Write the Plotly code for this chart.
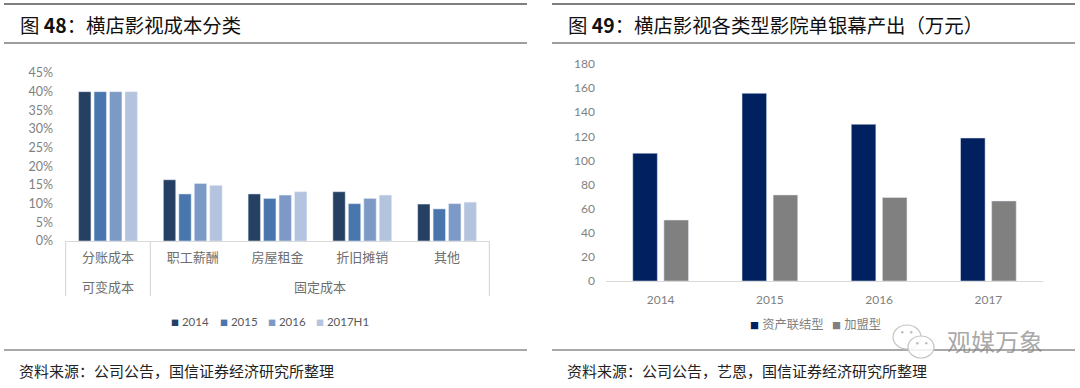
import plotly.graph_objects as go

W, H = 1080, 388
groups = ["可变成本", "固定成本", "固定成本", "固定成本", "固定成本"]
cost_items = ["分账成本", "职工薪酬", "房屋租金", "折旧摊销", "其他"]
years_left = ["2014", "2015", "2016", "2017H1"]
v2014 = [40, 16.4, 12.6, 13.2, 9.9]
v2015 = [40, 12.6, 11.4, 10.0, 8.6]
v2016 = [40, 15.4, 12.3, 11.4, 10.0]
v2017h1 = [40, 14.9, 13.2, 12.3, 10.4]
left_values = [v2014, v2015, v2016, v2017h1]
left_colors = ["#264064", "#4a76ae", "#7d9ac6", "#b4c4de"]

years_right = ["2014", "2015", "2016", "2017"]
asset_linked = [106, 155.7, 130, 118.6]
franchise = [50.6, 71.4, 69.3, 66.4]
right_names = ["资产联结型", "加盟型"]
right_colors = ["#00205f", "#808080"]

title_left = "图 <b>48</b>：横店影视成本分类"
title_right = "图 <b>49</b>：横店影视各类型影院单银幕产出（万元）"
source_left = "资料来源：公司公告，国信证券经济研究所整理"
source_right = "资料来源：公司公告，艺恩，国信证券经济研究所整理"

SANS = "Lato, 'Noto Sans CJK SC', sans-serif"
CJK = "'Noto Sans CJK SC', sans-serif"
TICK = "#7f7f7f"
AXIS = "#d9d9d9"
RULE = "#3f3f3f"

def px(x): return x / W
def py(y): return 1 - y / H

fig = go.Figure()
for name, vals, col in zip(years_left, left_values, left_colors):
    fig.add_trace(go.Bar(x=cost_items, y=vals, name=name, marker_color=col,
                         xaxis="x", yaxis="y", showlegend=False))
for name, vals, col in zip(right_names, [asset_linked, franchise], right_colors):
    fig.add_trace(go.Bar(x=years_right, y=vals, name=name, marker_color=col,
                         xaxis="x2", yaxis="y2", showlegend=False, offsetgroup=name))

shapes = []
for x0, x1 in [(4, 527), (552, 1075)]:
    for y, c, w in [(4, "#555555", 1.5), (43, RULE, 1.2), (350, "#555555", 1.2)]:
        shapes.append(dict(type="line", xref="paper", yref="paper", x0=px(x0), x1=px(x1),
                           y0=py(y), y1=py(y), line=dict(color=c, width=w)))
# group dividers under the left category axis, at the category band edges
spans = {}
for i, g in enumerate(groups):
    spans.setdefault(g, []).append(i)
edges = sorted({-0.5} | {s[-1] + 0.5 for s in spans.values()})
for e in edges:
    shapes.append(dict(type="line", xref="x", yref="paper", x0=e, x1=e,
                       y0=py(241), y1=py(296), line=dict(color=AXIS, width=1.2)))
# watermark icon
for x0, y0, x1, y1 in [(893, 325, 921, 349), (908, 336, 934, 358)]:
    shapes.append(dict(type="circle", xref="paper", yref="paper", x0=px(x0), x1=px(x1),
                       y0=py(y0), y1=py(y1), fillcolor="rgba(255,255,255,0.85)",
                       line=dict(color="#c4c4c4", width=1.2)))
for x0, y0 in [(901, 331), (910, 331), (916, 342), (925, 342)]:
    shapes.append(dict(type="circle", xref="paper", yref="paper", x0=px(x0), x1=px(x0 + 2.5),
                       y0=py(y0), y1=py(y0 + 2.5), fillcolor="#bdbdbd", line=dict(width=0)))

ann = []
def text(x, y, s, size, color="#111111", font=CJK, anchor="left"):
    ann.append(dict(xref="paper", yref="paper", x=px(x), y=py(y), text=s, showarrow=False,
                    xanchor=anchor, yanchor="middle", align=anchor,
                    font=dict(family=font, size=size, color=color)))

text(18, 25, title_left, 19.4)
text(566, 25, title_right, 19.4)
text(17, 370, source_left, 15, "#222222")
text(565, 370, source_right, 15, "#222222")
for g, idx in spans.items():
    ann.append(dict(xref="x", yref="paper", x=sum(idx) / len(idx), y=py(286), text=g, showarrow=False,
                    xanchor="center", yanchor="middle",
                    font=dict(family=CJK, size=13, color="#6e6e6e")))
for x, name, col in zip([169, 218, 266, 314], years_left, left_colors):
    text(x, 321, f'<span style="color:{col};font-size:8px">■</span> {name}', 11.5, "#595959", SANS)
for x, name, col in zip([748, 830], right_names, right_colors):
    text(x, 324, f'<span style="color:{col};font-size:9px">■</span> {name}', 12.3, "#7f7f7f", SANS)
text(945, 340, "观媒万象", 24, "rgba(130,130,130,0.7)", CJK)

fig.update_layout(
    width=W, height=H, margin=dict(l=0, r=0, t=0, b=0, autoexpand=False), autosize=False,
    paper_bgcolor="white", plot_bgcolor="white", barmode="group",
    bargap=0.27, bargroupgap=0.2, showlegend=False,
    font=dict(family=SANS, color=TICK), shapes=shapes, annotations=ann,
    xaxis=dict(domain=[px(65), px(490)], type="category", showline=True, linecolor=AXIS,
               linewidth=1.2, ticks="", showgrid=False, ticklabelstandoff=4,
               tickfont=dict(size=13, family=CJK, color="#6e6e6e")),
    yaxis=dict(domain=[py(241), py(73)], range=[0, 45], dtick=5, ticksuffix="%", showgrid=False,
               showline=False, ticks="", zeroline=False, ticklabelstandoff=11,
               tickfont=dict(size=12.5, color=TICK)),
    xaxis2=dict(domain=[px(606), px(1043)], type="category", showline=True, linecolor=AXIS,
                linewidth=1, ticks="", showgrid=False, anchor="y2", ticklabelstandoff=8,
                tickfont=dict(size=12, color=TICK)),
    yaxis2=dict(domain=[py(281), py(64)], range=[0, 180], dtick=20, showgrid=False, showline=False,
                ticks="", zeroline=False, anchor="x2", ticklabelstandoff=10,
                tickfont=dict(size=12, color=TICK)),
)
# right panel has its own bar spacing
fig.data[4].update(width=0.225, offset=-0.255)
fig.data[5].update(width=0.225, offset=0.03)
fig.write_html("out.html", config=dict(displayModeBar=False),
               post_script="document.body.style.margin='0';document.documentElement.style.overflow='hidden';")
